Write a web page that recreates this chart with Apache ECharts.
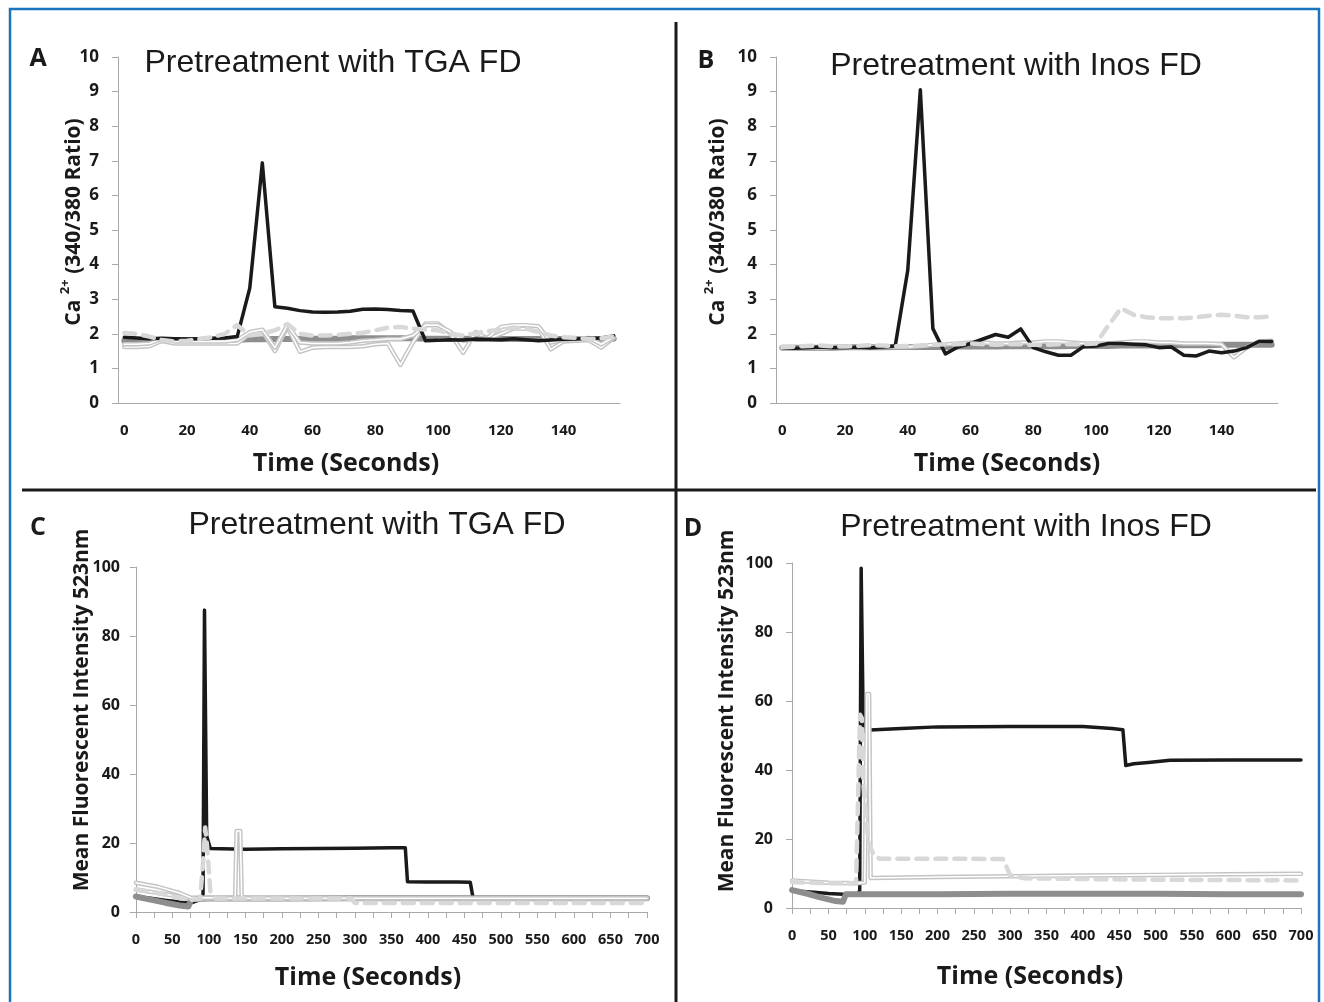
<!DOCTYPE html>
<html>
<head>
<meta charset="utf-8">
<title>Pretreatment with TGA FD / Inos FD</title>
<script src="https://cdn.jsdelivr.net/npm/echarts@6/dist/echarts.min.js"></script>
<style>
html, body { margin: 0; padding: 0; background: #fff; }
#chart { width: 1324px; height: 1002px; }
</style>
</head>
<body>
<div id="chart"></div>
<script>
// panels A and B : ratio samples every 4 s
var timeAB = [0, 4, 8, 12, 16, 20, 24, 28, 32, 36, 40, 44, 48, 52, 56, 60, 64, 68, 72, 76,
	80, 84, 88, 92, 96, 100, 104, 108, 112, 116, 120, 124, 128, 132, 136, 140, 144, 148, 152, 156];

var aBlack = [1.90, 1.88, 1.86, 1.87, 1.86, 1.85, 1.86, 1.87, 1.88, 1.92, 3.32, 6.94, 2.78, 2.74, 2.67, 2.63, 2.62, 2.63, 2.65, 2.71,
	2.72, 2.70, 2.67, 2.66, 1.80, 1.81, 1.83, 1.82, 1.85, 1.84, 1.83, 1.86, 1.83, 1.80, 1.82, 1.84, 1.85, 1.87, 1.88, 1.94];
var aGray = [1.80, 1.80, 1.81, 1.81, 1.82, 1.82, 1.82, 1.83, 1.83, 1.83, 1.84, 1.84, 1.85, 1.85, 1.85, 1.86, 1.86, 1.86, 1.87, 1.87,
	1.87, 1.87, 1.87, 1.87, 1.86, 1.86, 1.86, 1.86, 1.85, 1.85, 1.85, 1.85, 1.85, 1.85, 1.85, 1.85, 1.85, 1.85, 1.85, 1.86];
var aDashed = [2.02, 2.00, 1.92, 1.82, 1.78, 1.80, 1.85, 1.90, 2.00, 2.25, 1.95, 2.00, 2.10, 2.28, 2.00, 1.95, 1.95, 1.97, 2.00, 2.03,
	2.10, 2.18, 2.20, 2.15, 2.12, 2.10, 2.00, 1.95, 2.02, 2.08, 2.12, 2.18, 2.15, 2.05, 1.95, 1.90, 1.88, 1.85, 1.87, 1.92];
var aDouble1 = [1.62, 1.62, 1.64, 1.80, 1.72, 1.72, 1.72, 1.72, 1.72, 1.72, 2.00, 2.08, 1.50, 2.20, 1.48, 1.60, 1.62, 1.62, 1.62, 1.64,
	1.70, 1.72, 1.10, 1.75, 2.30, 2.30, 2.00, 1.45, 2.05, 1.85, 2.00, 2.15, 2.15, 2.15, 1.55, 1.78, 1.80, 1.82, 1.60, 1.88];
var aDouble2 = [1.70, 1.70, 1.72, 1.85, 1.78, 1.78, 1.78, 1.78, 1.78, 1.82, 2.05, 2.12, 1.60, 2.25, 1.75, 1.72, 1.72, 1.72, 1.75, 1.80,
	1.82, 1.85, 1.85, 1.95, 2.25, 2.25, 2.05, 1.80, 1.85, 1.90, 2.20, 2.25, 2.25, 2.22, 1.75, 1.82, 1.85, 1.88, 1.70, 1.90];

var bBlack = [1.60, 1.58, 1.60, 1.62, 1.60, 1.60, 1.62, 1.60, 1.62, 1.65, 3.84, 9.05, 2.15, 1.42, 1.62, 1.72, 1.85, 1.98, 1.90, 2.14,
	1.60, 1.48, 1.38, 1.38, 1.63, 1.65, 1.72, 1.72, 1.70, 1.68, 1.60, 1.62, 1.38, 1.36, 1.50, 1.45, 1.50, 1.60, 1.78, 1.78];
var bGray = [1.60, 1.60, 1.60, 1.60, 1.60, 1.61, 1.61, 1.61, 1.61, 1.62, 1.62, 1.62, 1.62, 1.62, 1.63, 1.63, 1.63, 1.63, 1.64, 1.64,
	1.64, 1.64, 1.64, 1.65, 1.65, 1.65, 1.65, 1.66, 1.66, 1.66, 1.66, 1.67, 1.67, 1.67, 1.67, 1.68, 1.68, 1.68, 1.68, 1.68];
var bDashed = [1.62, 1.63, 1.65, 1.66, 1.64, 1.63, 1.65, 1.67, 1.66, 1.64, 1.65, 1.66, 1.68, 1.70, 1.70, 1.72, 1.70, 1.68, 1.70, 1.70,
	1.68, 1.68, 1.70, 1.70, 1.70, 1.72, 2.25, 2.74, 2.55, 2.48, 2.45, 2.45, 2.45, 2.48, 2.52, 2.55, 2.52, 2.48, 2.48, 2.50];
var bDouble = [1.58, 1.58, 1.60, 1.60, 1.60, 1.60, 1.62, 1.62, 1.62, 1.62, 1.62, 1.65, 1.68, 1.70, 1.72, 1.75, 1.75, 1.72, 1.72, 1.75,
	1.75, 1.78, 1.78, 1.75, 1.72, 1.72, 1.72, 1.75, 1.78, 1.78, 1.75, 1.75, 1.72, 1.72, 1.72, 1.70, 1.32, 1.60, 1.78, 1.80];

// panel C : fluorescence, irregular time points
var cBlackT = [0, 20, 40, 60, 75, 88, 92, 94, 97, 102, 150, 200, 250, 300, 350, 369, 372, 400, 440, 458, 462];
var cBlackV = [4.5, 4.0, 3.4, 2.9, 2.6, 3.6, 5.0, 87.5, 22.0, 18.4, 18.2, 18.3, 18.4, 18.5, 18.6, 18.6, 8.8, 8.7, 8.7, 8.6, 3.8];
var cGrayT = [0, 20, 40, 60, 72, 76, 100, 200, 300, 400, 500, 600, 700];
var cGrayV = [4.5, 3.6, 2.7, 1.9, 1.6, 3.8, 3.9, 3.9, 4.0, 4.0, 4.0, 4.0, 4.0];
var cDashT = [0, 30, 60, 75, 88, 92, 95, 98, 102, 110, 200, 295, 300, 400, 500, 600, 700];
var cDashV = [6.5, 5.5, 4.0, 3.5, 3.8, 14.0, 24.5, 18.0, 6.0, 3.9, 3.9, 3.9, 2.6, 2.6, 2.6, 2.6, 2.6];
var cDouble1T = [0, 30, 60, 75, 136, 138, 143, 145, 300, 500, 700];
var cDouble1V = [8.5, 7.3, 5.5, 4.2, 4.0, 23.5, 23.5, 4.0, 4.0, 4.0, 4.0];
var cDouble2T = [0, 30, 60, 75, 100, 300, 700];
var cDouble2V = [6.5, 5.5, 4.5, 3.9, 3.9, 3.9, 3.9];

// panel D
var dBlackT = [0, 30, 50, 70, 90, 93, 95, 98, 107, 150, 200, 300, 400, 440, 455, 459, 470, 490, 520, 600, 700];
var dBlackV = [5.0, 4.6, 4.2, 4.0, 4.0, 5.0, 98.5, 51.2, 51.6, 52.0, 52.5, 52.6, 52.6, 52.0, 51.7, 41.3, 41.8, 42.2, 42.8, 42.9, 42.9];
var dGrayT = [0, 20, 40, 60, 70, 74, 100, 200, 300, 400, 500, 600, 700];
var dGrayV = [5.2, 4.2, 3.0, 2.0, 1.8, 4.0, 4.0, 4.0, 4.1, 4.1, 4.1, 4.0, 4.0];
var dDashT = [0, 50, 88, 90, 93.5, 96, 98, 105, 112, 120, 200, 290, 300, 320, 400, 500, 600, 700];
var dDashV = [7.5, 7.2, 7.2, 7.5, 56.0, 55.0, 36.0, 19.0, 15.5, 14.3, 14.3, 14.2, 9.5, 8.6, 8.4, 8.2, 8.1, 8.0];
var dDoubleT = [0, 50, 90, 100, 103, 106, 108, 200, 300, 400, 500, 600, 700];
var dDoubleV = [8.0, 7.3, 7.2, 7.4, 62.0, 62.0, 8.7, 9.0, 9.2, 9.4, 9.6, 9.8, 9.9];

// tick labels
var timeLabelsCD = [0, 50, 100, 150, 200, 250, 300, 350, 400, 450, 500, 550, 600, 650, 700];
var timeTicksCD = [0, 25, 50, 75, 100, 125, 150, 175, 200, 225, 250, 275, 300, 325, 350, 375, 400, 425, 450, 475,
	500, 525, 550, 575, 600, 625, 650, 675, 700];

var FONT = '"Open Sans", "Noto Sans", sans-serif';
var TITLE_FONT = '"Liberation Sans", Arial, sans-serif';
var AXIS = '#a9a9a9';
var INK = '#1a1a1a';

function pairs(t, v) {
	var out = [];
	for(var i = 0; i < t.length; i++) {
		out.push([t[i], v[i]]);
	}
	return out;
}

function line(data, xi, color, width, dash) {
	return {
		type: 'line',
		xAxisIndex: xi,
		yAxisIndex: xi,
		data: data,
		symbol: 'none',
		silent: true,
		lineStyle: {
			color: color,
			width: width,
			type: dash ? [11, 8] : 'solid',
			cap: 'round',
			join: 'round'
		}
	};
}

// excel "double" line: grey outline with a white core
function doubleLine(data, xi) {
	return [line(data, xi, '#c4c4c4', 4.5), line(data, xi, '#ffffff', 1.6)];
}

function catAxis(gi) {
	return {
		type: 'category',
		gridIndex: gi,
		data: timeAB,
		boundaryGap: true,
		axisLine: {lineStyle: {color: AXIS}},
		axisTick: {interval: 9, length: 6, lineStyle: {color: AXIS}},
		axisLabel: {interval: 4, margin: 20, color: INK, fontFamily: FONT, fontWeight: 'bold', fontSize: 15},
		splitLine: {show: false}
	};
}

function timeAxis(gi, min) {
	return {
		type: 'value',
		gridIndex: gi,
		min: min,
		max: 700,
		axisLine: {onZero: false, lineStyle: {color: AXIS}},
		axisTick: {show: true, length: 6, customValues: timeTicksCD, lineStyle: {color: AXIS}},
		axisLabel: {customValues: timeLabelsCD, margin: 20, color: INK, fontFamily: FONT, fontWeight: 'bold', fontSize: 14.5},
		splitLine: {show: false}
	};
}

function ratioAxis(gi) {
	return {
		type: 'value',
		gridIndex: gi,
		min: 0,
		max: 10,
		interval: 1,
		axisLine: {show: true, lineStyle: {color: AXIS}},
		axisTick: {show: true, length: 6, lineStyle: {color: AXIS}},
		axisLabel: {margin: 19, color: INK, fontFamily: FONT, fontWeight: 'bold', fontSize: 17},
		splitLine: {show: false}
	};
}

function intensityAxis(gi, margin) {
	return {
		type: 'value',
		gridIndex: gi,
		min: 0,
		max: 100,
		interval: 20,
		axisLine: {show: true, lineStyle: {color: AXIS}},
		axisTick: {show: true, length: 6, lineStyle: {color: AXIS}},
		axisLabel: {margin: margin, color: INK, fontFamily: FONT, fontWeight: 'bold', fontSize: 16},
		splitLine: {show: false}
	};
}

function text(x, y, str, size, weight, family, rot) {
	return {
		type: 'text',
		x: x,
		y: y,
		rotation: rot || 0,
		silent: true,
		style: {
			text: str,
			fill: INK,
			fontSize: size,
			fontWeight: weight,
			fontFamily: family,
			align: 'center',
			verticalAlign: 'middle'
		}
	};
}

function ratioName(x, y) {
	return {
		type: 'text',
		x: x,
		y: y,
		rotation: Math.PI / 2,
		silent: true,
		style: {
			text: '{n|Ca }{s|2+}{n| (340/380 Ratio)}',
			align: 'center',
			verticalAlign: 'middle',
			rich: {
				n: {fontSize: 21, fontWeight: 'bold', fontFamily: FONT, fill: INK, lineHeight: 26, verticalAlign: 'bottom'},
				s: {fontSize: 13, fontWeight: 'bold', fontFamily: FONT, fill: INK, lineHeight: 26, verticalAlign: 'top', padding: [0, 0, 10, 0]}
			}
		}
	};
}

var series = [];
series.push(line(aGray, 0, '#8e8e8e', 6));
series = series.concat(doubleLine(aDouble1, 0), doubleLine(aDouble2, 0));
series.push(line(aBlack, 0, INK, 3.5));
series.push(line(aDashed, 0, '#d8d8d8', 4.5, true));

series.push(line(bGray, 1, '#8e8e8e', 6));
series = series.concat(doubleLine(bDouble, 1));
series.push(line(bBlack, 1, INK, 3.5));
series.push(line(bDashed, 1, '#d8d8d8', 4.5, true));

series.push(line(pairs(cBlackT, cBlackV), 2, INK, 3.5));
series.push(line(pairs(cGrayT, cGrayV), 2, '#8e8e8e', 6));
series = series.concat(doubleLine(pairs(cDouble2T, cDouble2V), 2), doubleLine(pairs(cDouble1T, cDouble1V), 2));
series.push(line(pairs(cDashT, cDashV), 2, '#d8d8d8', 4.5, true));

series.push(line(pairs(dBlackT, dBlackV), 3, INK, 3.5));
series.push(line(pairs(dGrayT, dGrayV), 3, '#8e8e8e', 6));
series = series.concat(doubleLine(pairs(dDoubleT, dDoubleV), 3));
series.push(line(pairs(dDashT, dDashV), 3, '#d8d8d8', 4.5, true));

var option = {
	animation: false,
	backgroundColor: '#ffffff',
	grid: [
		{left: 118, top: 57, width: 502, height: 346},
		{left: 776, top: 57, width: 502, height: 346},
		{left: 130, top: 567, width: 517, height: 345},
		{left: 787, top: 563, width: 514, height: 345}
	],
	xAxis: [catAxis(0), catAxis(1), timeAxis(2, -8), timeAxis(3, -7)],
	yAxis: [ratioAxis(0), ratioAxis(1), intensityAxis(2, 10), intensityAxis(3, 14)],
	series: series,
	graphic: [
		// frame and dividers
		{type: 'rect', silent: true, shape: {x: 10, y: 9, width: 1309, height: 1020}, style: {fill: 'none', stroke: '#1b75bc', lineWidth: 2.5}},
		{type: 'line', silent: true, shape: {x1: 676, y1: 22, x2: 676, y2: 1002}, style: {stroke: INK, lineWidth: 3}},
		{type: 'line', silent: true, shape: {x1: 22, y1: 490, x2: 1316, y2: 490}, style: {stroke: INK, lineWidth: 3}},
		// titles
		text(333, 63, 'Pretreatment with TGA FD', 32, 'normal', TITLE_FONT),
		text(1016, 66, 'Pretreatment with Inos FD', 32, 'normal', TITLE_FONT),
		text(377, 525, 'Pretreatment with TGA FD', 32, 'normal', TITLE_FONT),
		text(1026, 527, 'Pretreatment with Inos FD', 32, 'normal', TITLE_FONT),
		// panel letters
		text(38, 59, 'A', 25, 'bold', FONT),
		text(706, 61, 'B', 25, 'bold', FONT),
		text(38, 528, 'C', 25, 'bold', FONT),
		text(693, 529, 'D', 25, 'bold', FONT),
		// axis names
		ratioName(72, 222),
		ratioName(716, 222),
		text(82, 710, 'Mean Fluorescent Intensity 523nm', 21, 'bold', FONT, Math.PI / 2),
		text(727, 711, 'Mean Fluorescent Intensity 523nm', 21, 'bold', FONT, Math.PI / 2),
		text(346, 464, 'Time (Seconds)', 25, 'bold', FONT),
		text(1007, 464, 'Time (Seconds)', 25, 'bold', FONT),
		text(368, 978, 'Time (Seconds)', 25, 'bold', FONT),
		text(1030, 977, 'Time (Seconds)', 25, 'bold', FONT)
	]
};

var chart = echarts.init(document.getElementById('chart'));
chart.setOption(option);
</script>
</body>
</html>
